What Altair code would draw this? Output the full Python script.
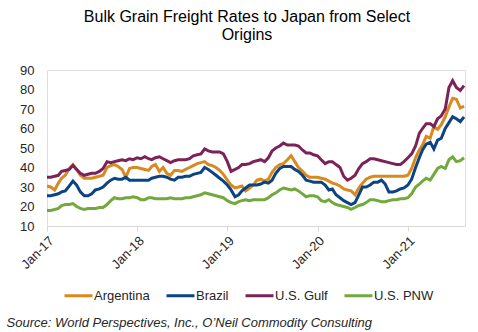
import altair as alt
import pandas as pd

series_names = ["Argentina", "Brazil", "U.S. Gulf", "U.S. PNW"]
series_colors = ["#D88A1E", "#0B4383", "#7B2359", "#72A83C"]

# semi-monthly readings (1st and 16th of each month), Jan 2017 .. mid-Aug 2021
argentina = [
    30.5, 30, 28.5, 32, 34.5, 36, 39.5, 41.5, 39, 36, 34.5, 34.5, 34.5, 35, 35.5, 36, 40, 41, 41.5, 40.5, 39, 35, 39.5, 40,
    40, 39.5, 39, 38.5, 40.5, 41.5, 38, 40, 37, 36, 38.5, 38.5, 38, 39, 40, 41, 42, 42.5, 43, 41.5, 41, 40, 38.5, 36.5,
    33.5, 31, 29.5, 30, 30.5, 28, 29.5, 31, 33.5, 34, 33, 34, 37.5, 40, 41.5, 42, 44, 46, 43, 40, 38, 36, 35, 35,
    35, 34.5, 34, 33, 32, 31.5, 30.5, 29, 28.5, 28, 26, 29.5, 32, 34, 35, 35.5, 35.5, 35.5, 35.5, 35.5, 35.5, 35.5, 35.5, 35.5,
    36, 39.5, 45, 49, 51.5, 56, 55, 61, 59.5, 62, 66, 71, 75.5, 75, 70.5, 71.5,
]
brazil = [
    25.5, 25.5, 26, 26.5, 27.5, 28, 30.5, 33, 31, 27.5, 25.5, 25.5, 26.5, 28.5, 29, 30, 32, 33.5, 34.5, 34, 34, 35, 33.5, 33.5,
    33.5, 33.5, 33.5, 33.5, 34.5, 35, 35.5, 35.5, 35, 34, 33.5, 35, 35, 35.5, 35.5, 36.5, 37, 37.5, 40, 39, 37.5, 36, 34.5, 33,
    31, 28.5, 25, 26, 28, 29.5, 31, 31, 31, 31.5, 32.5, 32, 33.5, 37, 39.5, 40.5, 40.5, 40.5, 39, 38, 36, 33.5, 33, 32.5,
    32.5, 32.5, 31, 28.5, 29, 26, 24.5, 23, 22, 21, 22, 26, 30, 30, 31, 32.5, 32.5, 33.5, 31.5, 27.5, 27.5, 28, 29, 29.5,
    31, 34, 40, 45, 49, 52, 53, 49.5, 54, 55, 60, 63, 66, 65, 63.5, 66,
]
us_gulf = [
    35, 35, 35.5, 36, 38, 38.5, 39, 41, 39, 37, 36, 36.5, 37, 37, 38, 39.5, 43, 42.5, 43, 43.5, 44, 43.5, 44.5, 44,
    45, 44.5, 45.5, 44.5, 44, 45, 45.5, 44.5, 43.5, 42.5, 43.5, 44, 44, 44, 44.5, 46, 46.5, 47, 49.5, 48.5, 48, 48, 48, 47,
    43, 38, 39, 40, 41.5, 41.5, 42, 43, 43.5, 44, 43, 45, 48.5, 50, 51, 52.5, 51.5, 51.5, 51.5, 51, 49, 47.5, 47.5, 46.5,
    46, 44, 42, 43, 43, 41.5, 40, 35.5, 33.5, 34.5, 36, 39.5, 42, 43, 44.5, 44.5, 44, 43.5, 43, 42.5, 42, 41.5, 41.5, 43,
    45, 47, 51, 57.5, 60, 62.5, 62.5, 61, 65, 66.5, 70, 81, 84.5, 81, 79.5, 82,
]
us_pnw = [
    18, 18, 18.5, 19, 20.5, 21, 21, 21.5, 20, 19, 18.5, 19, 19, 19, 19.5, 19.5, 21, 23, 24.5, 24, 24, 24.5, 24.5, 25,
    24.5, 23.5, 23.5, 24.5, 24.5, 24, 24, 24, 24, 24.5, 24, 24, 24, 24.5, 24.5, 25, 25.5, 26, 27, 26.5, 26, 25.5, 25, 24.5,
    23, 22, 21.5, 22.5, 23, 23.5, 23, 23.5, 23.5, 23.5, 23.5, 24.5, 26, 27, 28.5, 29.5, 29, 28.5, 29, 28, 26.5, 25, 25.5, 25.5,
    25, 23, 22.5, 23.5, 22, 21, 20.5, 20, 19.5, 18.5, 19.5, 20.5, 21, 22, 23.5, 23.5, 23, 22.5, 22.5, 23, 23.5, 23.5, 24, 24,
    24.5, 26.5, 30, 31.5, 33, 34.5, 33.5, 36.5, 39.5, 40.5, 39.5, 44, 45.5, 43, 43.5, 45,
]
x_tick_dates = ["2017-01-01", "2018-01-01", "2019-01-01", "2020-01-01", "2021-01-01"]


def half_month_dates(n):
    out = []
    for i in range(n):
        year = 2017 + i // 24
        month = (i % 24) // 2 + 1
        day = 1 if i % 2 == 0 else 16
        out.append(f"{year}-{month:02d}-{day:02d}")
    return out


rows = []
for name, vals in zip(series_names, [argentina, brazil, us_gulf, us_pnw]):
    for d, v in zip(half_month_dates(len(vals)), vals):
        rows.append({"date": d, "series": name, "rate": v})
df = pd.DataFrame(rows)

FONT = "Liberation Sans"

chart = (
    alt.Chart(df)
    .mark_line(strokeWidth=3)
    .encode(
        x=alt.X(
            "date:T",
            scale=alt.Scale(domain=["2017-01-01", "2021-08-20"]),
            axis=alt.Axis(
                values=x_tick_dates,
                format="%b-%y",
                labelAngle=-45,
                labelFontSize=13,
                labelFont=FONT,
                labelColor="#262626",
                labelPadding=3,
                grid=False,
                domainColor="#D9D9D9",
                tickColor="#D9D9D9",
                tickSize=5,
                title="Source: World Perspectives, Inc., O\u2019Neil Commodity Consulting",
                titleFont=FONT,
                titleFontSize=13,
                titleFontStyle="italic",
                titleFontWeight="normal",
                titleColor="#262626",
                titleAnchor="start",
                titleAlign="left",
                titleBaseline="alphabetic",
                titleX=-41,
                titleY=100,
            ),
        ),
        y=alt.Y(
            "rate:Q",
            scale=alt.Scale(domain=[10, 90], nice=False, zero=False),
            axis=alt.Axis(
                values=[10, 20, 30, 40, 50, 60, 70, 80, 90],
                grid=False,
                domain=False,
                ticks=False,
                labelPadding=13,
                labelFontSize=13,
                labelFont=FONT,
                labelColor="#262626",
                title=None,
            ),
        ),
        color=alt.Color(
            "series:N",
            scale=alt.Scale(domain=series_names, range=series_colors),
            legend=alt.Legend(
                title=None,
                orient="none",
                legendX=16,
                legendY=210,
                direction="horizontal",
                gridAlign="each",
                symbolType="stroke",
                symbolSize=784,
                symbolStrokeWidth=3,
                labelFont=FONT,
                labelFontSize=13,
                labelColor="#262626",
                labelOffset=0,
                columnPadding=10,
            ),
        ),
    )
    .properties(
        width=418,
        height=156,
        padding={"left": 47, "top": 70, "right": 13, "bottom": 106},
        autosize=alt.AutoSizeParams(type="none"),
        title=alt.TitleParams(
            text=["Bulk Grain Freight Rates to Japan from Select", "Origins"],
            font=FONT,
            fontSize=16,
            fontWeight="normal",
            color="#000000",
            anchor="middle",
            dx=-9,
            offset=21,
            lineHeight=18.5,
        ),
    )
    .configure_view(stroke=None)
    .configure(background="white")
)

chart.save("out.html", embed_options={"renderer": "svg", "actions": False})
